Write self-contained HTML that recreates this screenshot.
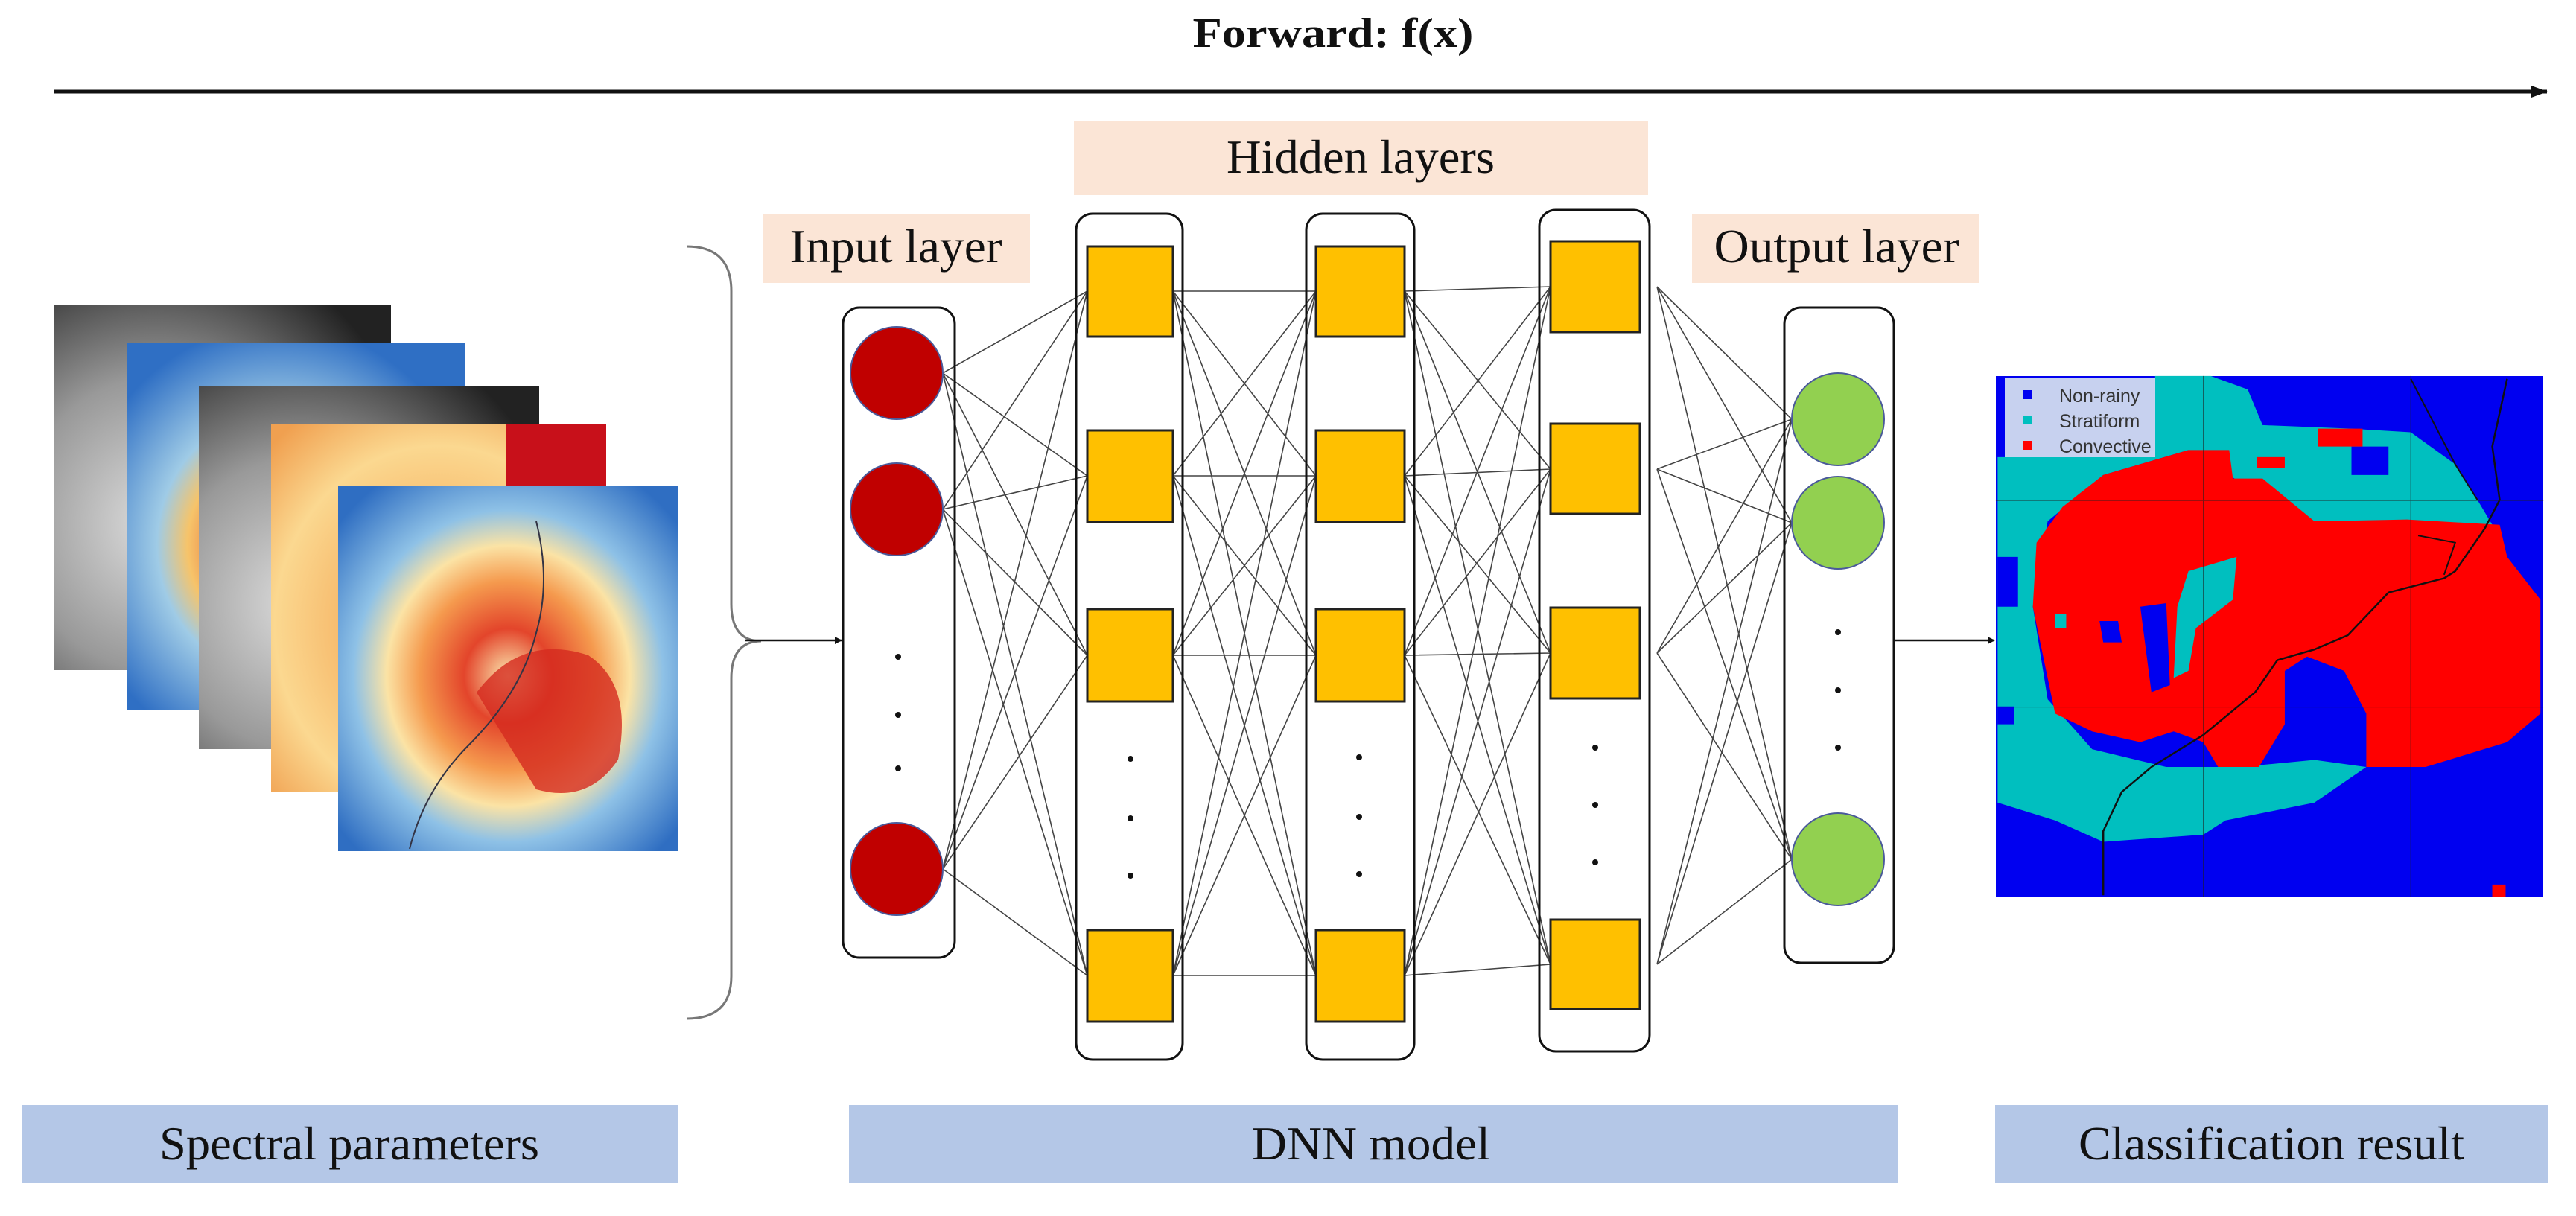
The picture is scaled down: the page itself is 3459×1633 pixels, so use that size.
<!DOCTYPE html>
<html><head><meta charset="utf-8"><style>
html,body{margin:0;padding:0;background:#fff;}
svg{display:block;}
text{font-family:"Liberation Serif",serif;fill:#111;}
</style></head><body>
<svg width="3459" height="1633" viewBox="0 0 3459 1633" xmlns="http://www.w3.org/2000/svg">
<defs>
<marker id="ah" markerWidth="10" markerHeight="10" refX="9" refY="5" orient="auto" markerUnits="userSpaceOnUse"><path d="M0,0 L10,5 L0,10 z" fill="#111"/></marker>
<marker id="ah2" markerWidth="22" markerHeight="16" refX="21" refY="8" orient="auto" markerUnits="userSpaceOnUse"><path d="M0,0 L22,8 L0,16 z" fill="#111"/></marker>
<radialGradient id="gray" cx="0.3" cy="0.6" r="0.8"><stop offset="0" stop-color="#ddd"/><stop offset="0.5" stop-color="#999"/><stop offset="1" stop-color="#222"/></radialGradient>
<radialGradient id="blu" cx="0.45" cy="0.55" r="0.6"><stop offset="0" stop-color="#f0e6b0"/><stop offset="0.25" stop-color="#e86a3a"/><stop offset="0.45" stop-color="#f6c46a"/><stop offset="0.6" stop-color="#9fcbe6"/><stop offset="1" stop-color="#2f6fc4"/></radialGradient>
<radialGradient id="org" cx="0.5" cy="0.55" r="0.7"><stop offset="0" stop-color="#e04030"/><stop offset="0.3" stop-color="#f5b060"/><stop offset="0.7" stop-color="#fbd890"/><stop offset="1" stop-color="#f0a050"/></radialGradient>
<radialGradient id="b5" cx="0.5" cy="0.52" r="0.65"><stop offset="0" stop-color="#fbe8b0"/><stop offset="0.2" stop-color="#e3452b"/><stop offset="0.4" stop-color="#f59a4e"/><stop offset="0.55" stop-color="#fbe3a5"/><stop offset="0.7" stop-color="#8ec1e6"/><stop offset="1" stop-color="#2f6ec2"/></radialGradient>
</defs>

<text x="1790" y="63" font-size="56" font-weight="bold" text-anchor="middle" textLength="377" lengthAdjust="spacingAndGlyphs">Forward: f(x)</text>
<line x1="73" y1="123" x2="3420" y2="123" stroke="#111" stroke-width="5" marker-end="url(#ah2)"/>

<rect x="1442" y="162" width="771" height="100" fill="#fbe5d6"/>
<text x="1827" y="232" font-size="64" text-anchor="middle" textLength="360" lengthAdjust="spacingAndGlyphs">Hidden layers</text>
<rect x="1024" y="287" width="359" height="93" fill="#fbe5d6"/>
<text x="1203" y="352" font-size="64" text-anchor="middle" textLength="285" lengthAdjust="spacingAndGlyphs">Input layer</text>
<rect x="2272" y="287" width="386" height="93" fill="#fbe5d6"/>
<text x="2466" y="352" font-size="64" text-anchor="middle" textLength="329" lengthAdjust="spacingAndGlyphs">Output layer</text>

<rect x="29" y="1484" width="882" height="105" fill="#b4c7e7"/>
<text x="469" y="1557" font-size="64" text-anchor="middle" textLength="510" lengthAdjust="spacingAndGlyphs">Spectral parameters</text>
<rect x="1140" y="1484" width="1408" height="105" fill="#b4c7e7"/>
<text x="1841" y="1557" font-size="64" text-anchor="middle" textLength="320" lengthAdjust="spacingAndGlyphs">DNN model</text>
<rect x="2679" y="1484" width="743" height="105" fill="#b4c7e7"/>
<text x="3050" y="1557" font-size="64" text-anchor="middle" textLength="518" lengthAdjust="spacingAndGlyphs">Classification result</text>

<!-- satellite stack -->
<rect x="73" y="410" width="452" height="490" fill="url(#gray)"/>
<rect x="170" y="461" width="454" height="492" fill="url(#blu)"/>
<rect x="267" y="518" width="457" height="488" fill="url(#gray)"/>
<rect x="364" y="569" width="450" height="494" fill="url(#org)"/>
<rect x="680" y="569" width="134" height="110" fill="#c8101a"/>
<rect x="454" y="653" width="457" height="490" fill="url(#b5)"/>
<path d="M640 930 q60 -80 150 -50 q60 40 40 140 q-40 60 -110 40 z" fill="#d42a1f" opacity="0.8"/>
<path d="M720 700 q20 80 0 150 q-20 80 -90 150 q-60 60 -80 140" stroke="#334" stroke-width="2" fill="none"/>

<path d="M922 331 q60 0 60 60 v420 q0 50 40 50 q-40 0 -40 50 v400 q0 57 -60 57" stroke="#777" stroke-width="3" fill="none"/>
<line x1="1000" y1="860" x2="1130" y2="860" stroke="#111" stroke-width="2.5" marker-end="url(#ah)"/>
<line x1="2543" y1="860" x2="2678" y2="860" stroke="#111" stroke-width="2.5" marker-end="url(#ah)"/>

<g stroke="#444" stroke-width="1.6">
<path d="M1266 501L1460 391M1266 501L1460 639M1266 501L1460 880M1266 501L1460 1310
M1266 684L1460 391M1266 684L1460 639M1266 684L1460 880M1266 684L1460 1310
M1266 1167L1460 391M1266 1167L1460 639M1266 1167L1460 880M1266 1167L1460 1310"/>
<path d="M1575 391L1767 391M1575 391L1767 639M1575 391L1767 880M1575 391L1767 1310
M1575 639L1767 391M1575 639L1767 639M1575 639L1767 880M1575 639L1767 1310
M1575 880L1767 391M1575 880L1767 639M1575 880L1767 880M1575 880L1767 1310
M1575 1310L1767 391M1575 1310L1767 639M1575 1310L1767 880M1575 1310L1767 1310"/>
<path d="M1886 391L2082 385M1886 391L2082 630M1886 391L2082 877M1886 391L2082 1295
M1886 639L2082 385M1886 639L2082 630M1886 639L2082 877M1886 639L2082 1295
M1886 880L2082 385M1886 880L2082 630M1886 880L2082 877M1886 880L2082 1295
M1886 1310L2082 385M1886 1310L2082 630M1886 1310L2082 877M1886 1310L2082 1295"/>
<path d="M2225 385L2406 563M2225 385L2406 702M2225 385L2406 1154
M2225 630L2406 563M2225 630L2406 702M2225 630L2406 1154
M2225 877L2406 563M2225 877L2406 702M2225 877L2406 1154
M2225 1295L2406 563M2225 1295L2406 702M2225 1295L2406 1154"/>
</g>

<g fill="#fff" fill-opacity="0" stroke="#111" stroke-width="3">
<rect x="1132" y="413" width="150" height="873" rx="22"/>
<rect x="1445" y="287" width="143" height="1136" rx="22"/>
<rect x="1754" y="287" width="145" height="1136" rx="22"/>
<rect x="2067" y="282" width="148" height="1130" rx="22"/>
<rect x="2396" y="413" width="147" height="880" rx="22"/>
</g>

<g fill="#c00000" stroke="#4a5a9a" stroke-width="2">
<circle cx="1204" cy="501" r="62"/><circle cx="1204" cy="684" r="62"/><circle cx="1204" cy="1167" r="62"/>
</g>
<g fill="#92d050" stroke="#4a5a9a" stroke-width="2">
<circle cx="2468" cy="563" r="62"/><circle cx="2468" cy="702" r="62"/><circle cx="2468" cy="1154" r="62"/>
</g>
<g fill="#ffc000" stroke="#222" stroke-width="3">
<rect x="1460" y="331" width="115" height="121"/><rect x="1460" y="578" width="115" height="123"/><rect x="1460" y="818" width="115" height="124"/><rect x="1460" y="1249" width="115" height="123"/>
<rect x="1767" y="331" width="119" height="121"/><rect x="1767" y="578" width="119" height="123"/><rect x="1767" y="818" width="119" height="124"/><rect x="1767" y="1249" width="119" height="123"/>
<rect x="2082" y="324" width="120" height="122"/><rect x="2082" y="569" width="120" height="121"/><rect x="2082" y="816" width="120" height="122"/><rect x="2082" y="1235" width="120" height="120"/>
</g>
<g fill="#111">
<circle cx="1206" cy="882" r="4"/><circle cx="1206" cy="960" r="4"/><circle cx="1206" cy="1032" r="4"/>
<circle cx="1518" cy="1019" r="4"/><circle cx="1518" cy="1099" r="4"/><circle cx="1518" cy="1176" r="4"/>
<circle cx="1825" cy="1017" r="4"/><circle cx="1825" cy="1097" r="4"/><circle cx="1825" cy="1174" r="4"/>
<circle cx="2142" cy="1004" r="4"/><circle cx="2142" cy="1081" r="4"/><circle cx="2142" cy="1158" r="4"/>
<circle cx="2468" cy="849" r="4"/><circle cx="2468" cy="927" r="4"/><circle cx="2468" cy="1004" r="4"/>
</g>

<!-- classification map -->
<rect x="2680" y="505" width="735" height="700" fill="#0000f0"/>
<g transform="translate(2660,480) scale(0.4975,0.4783)">
<path d="M45 280 L470 280 L470 52 L620 52 L720 90 L760 190 L1000 200 L1160 210 L1280 300 L1340 400 L1380 470 L900 470 L700 350 L560 260 L330 330 L180 460 L140 700 L180 960 L300 1100 L500 1150 L700 1150 L900 1130 L1040 1150 L900 1250 L660 1300 L600 1340 L330 1360 L200 1300 L45 1250 Z" fill="#00bfbf"/>
<path d="M45 560 L100 560 L100 700 L45 700 Z M45 980 L90 980 L90 1030 L45 1030 Z M1000 250 L1100 250 L1100 330 L1000 330 Z" fill="#0000f0"/>
<path d="M330 330 L560 260 L670 260 L680 340 L760 340 L830 400 L900 460 L1150 455 L1400 470 L1420 560 L1510 680 L1510 1000 L1420 1080 L1200 1150 L1040 1150 L1040 1000 L980 880 L880 840 L820 880 L820 1030 L750 1150 L640 1150 L600 1080 L520 1050 L430 1080 L300 1050 L200 1000 L180 900 L140 700 L150 520 L220 420 Z" fill="#ff0000"/>
<path d="M910 200 L1030 200 L1030 250 L910 250 Z M745 280 L820 280 L820 310 L745 310 Z" fill="#ff0000"/>
<path d="M430 700 L500 690 L510 920 L460 940 Z M320 740 L370 740 L380 800 L330 800 Z" fill="#0000f0"/>
<path d="M560 600 L690 560 L680 680 L580 760 L560 880 L520 900 L530 700 Z M200 720 L230 720 L230 760 L200 760 Z" fill="#00bfbf"/>
<path d="M330 1510 L330 1330 L380 1220 L460 1150 L600 1060 L740 940 L800 850 L900 820 L990 780 L1100 660 L1250 620 L1280 600 L1360 480 L1400 400 L1380 250 L1420 60" stroke="#111" stroke-width="5" fill="none"/>
<path d="M1160 60 L1280 300 L1340 400 M1180 500 L1280 520 L1250 610" stroke="#111" stroke-width="4" fill="none"/>
<rect x="1380" y="1480" width="36" height="35" fill="#ff0000"/>
<g stroke="#222" stroke-width="2" opacity="0.6"><line x1="600" y1="52" x2="600" y2="1515"/><line x1="1160" y1="52" x2="1160" y2="1515"/><line x1="40" y1="402" x2="1518" y2="402"/><line x1="40" y1="982" x2="1518" y2="982"/></g>
</g>
<rect x="2692" y="507" width="202" height="107" fill="#dde8ee" opacity="0.9"/>
<rect x="2716" y="524" width="12" height="12" fill="#0000f0"/><text x="2765" y="540" font-family="Liberation Sans,sans-serif" font-size="25" fill="#333" style="font-family:'Liberation Sans',sans-serif;fill:#333">Non-rainy</text>
<rect x="2716" y="558" width="12" height="12" fill="#00bfbf"/><text x="2765" y="574" font-size="25" style="font-family:'Liberation Sans',sans-serif;fill:#333">Stratiform</text>
<rect x="2716" y="592" width="12" height="12" fill="#ff0000"/><text x="2765" y="608" font-size="25" style="font-family:'Liberation Sans',sans-serif;fill:#333">Convective</text>
</svg>
</body></html>
